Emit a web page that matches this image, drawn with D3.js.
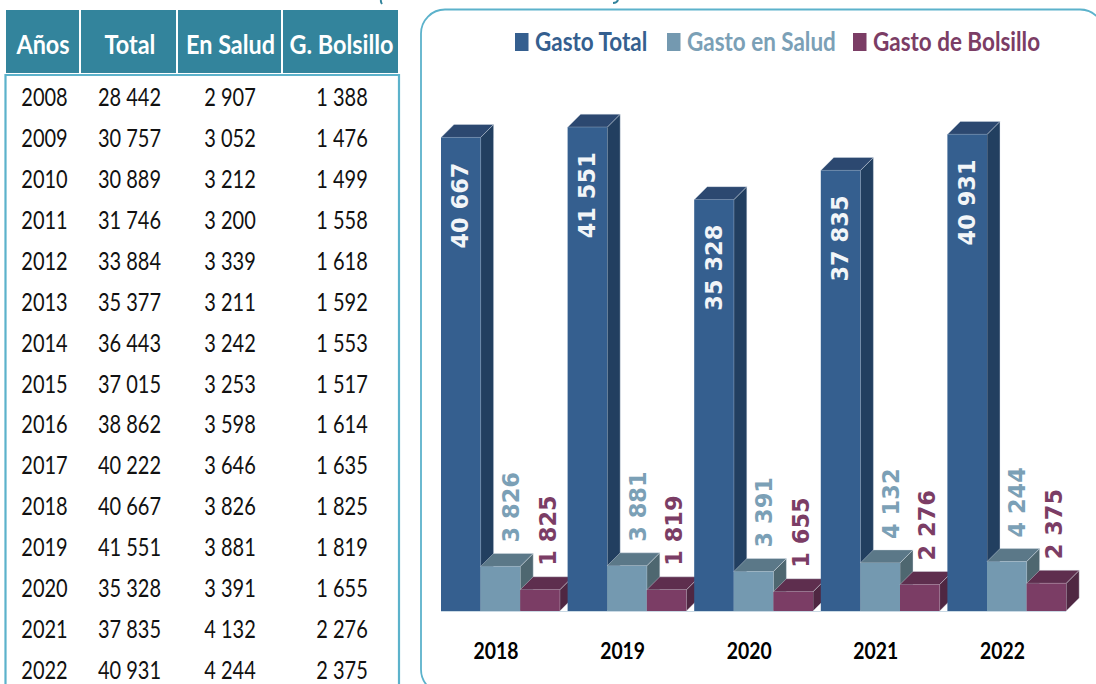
<!DOCTYPE html>
<html><head><meta charset="utf-8">
<script src="https://cdn.jsdelivr.net/npm/d3@7/dist/d3.min.js"></script>
<style>
html,body{margin:0;padding:0;background:#fff;overflow:hidden}
svg{display:block}
text{font-family:Lato,"Open Sans",sans-serif}
</style></head><body>
<script>
const tableYears=[2008,2009,2010,2011,2012,2013,2014,2015,2016,2017,2018,2019,2020,2021,2022];
const tableTotal=[28442,30757,30889,31746,33884,35377,36443,37015,38862,40222,40667,41551,35328,37835,40931];
const tableSalud=[2907,3052,3212,3200,3339,3211,3242,3253,3598,3646,3826,3881,3391,4132,4244];
const tableBolsillo=[1388,1476,1499,1558,1618,1592,1553,1517,1614,1635,1825,1819,1655,2276,2375];
const tableHeaders=["Años","Total","En Salud","G. Bolsillo"];
const chartYears=[2018,2019,2020,2021,2022];
const seriesNames=["Gasto Total","Gasto en Salud","Gasto de Bolsillo"];
const gastoTotal=[40667,41551,35328,37835,40931];
const gastoSalud=[3826,3881,3391,4132,4244];
const gastoBolsillo=[1825,1819,1655,2276,2375];

const W=1096,H=684;
const svg=d3.select("body").append("svg").attr("width",W).attr("height",H);
const fmtWide=v=>d3.format(",")(v).replace(","," ");
const scaled=(x,y,sx)=>`translate(${x},${y}) scale(${sx},1)`;

const TEAL="#33849C", LINE="#5CB2CB";
/* illegible clipped remains of the title at the page's top edge */
svg.append("path").attr("d","M381 0Q380.5 2 382 4").attr("fill","none").attr("stroke",TEAL).attr("stroke-width",2);
svg.append("path").attr("d","M618 0Q617 3 613 3").attr("fill","none").attr("stroke",TEAL).attr("stroke-width",2);

/* table */
const colEdges=[[6,79],[81,176],[178,281],[283,398]];
const colCenter=[44.5,129.5,230,342];
const headerCenter=[43,130,230.5,341.5];
const table=svg.append("g");
table.selectAll("rect.h").data(colEdges).join("rect").attr("class","h")
  .attr("x",d=>d[0]).attr("y",10).attr("width",d=>d[1]-d[0]).attr("height",63).attr("fill",TEAL);
table.selectAll("text.h").data(tableHeaders).join("text").attr("class","h")
  .attr("transform",(d,i)=>scaled(headerCenter[i],53.5,0.9)).attr("text-anchor","middle")
  .attr("font-size",26).attr("font-weight",700).attr("fill","#fff").text(d=>d);
table.append("path").attr("d","M5.5 684V75H399V684").attr("fill","none").attr("stroke",LINE).attr("stroke-width",2.2);
const rowY=d3.scalePoint().domain(tableYears).range([97.5,670.5]);
const columns=[tableYears.map(String),tableTotal.map(fmtWide),tableSalud.map(fmtWide),tableBolsillo.map(fmtWide)];
columns.forEach((col,c)=>{
  table.selectAll("text.c"+c).data(col).join("text").attr("class","c"+c)
    .attr("transform",(d,i)=>scaled(colCenter[c],rowY(tableYears[i])+8.5,0.8))
    .attr("text-anchor","middle").attr("font-size",25).attr("fill","#111").text(d=>d);
});

/* panel */
svg.append("rect").attr("x",421).attr("y",9.5).attr("width",683).attr("height",684).attr("rx",24)
  .attr("fill","#fff").attr("stroke",LINE).attr("stroke-width",1.8);

/* legend */
const colors=[
 {front:"#355F8F",top:"#2C4870",side:"#223F60",text:"#355F8F"},
 {front:"#7499B0",top:"#5B7888",side:"#4E6770",text:"#7BA0B6"},
 {front:"#7B3D65",top:"#5E2E4E",side:"#4F2742",text:"#7B3D65"}];
const legendSwatch=[515,667,853];
const legendText=[535,687,873];
const legend=svg.append("g");
legend.selectAll("rect").data(seriesNames).join("rect")
  .attr("x",(d,i)=>legendSwatch[i]).attr("y",33).attr("width",13.5).attr("height",18).attr("fill",(d,i)=>colors[i].front);
legend.selectAll("text").data(seriesNames).join("text")
  .attr("transform",(d,i)=>scaled(legendText[i],51,0.832))
  .attr("font-size",27).attr("font-weight",700).attr("fill",(d,i)=>colors[i].text).text(d=>d);

/* chart */
const x0=d3.scaleBand().domain(chartYears).range([441,441+5*126.6]);
const x1=d3.scaleBand().domain(d3.range(3)).range([0,118.8]);
const y=d3.scaleLinear().domain([0,45000]).range([611,611-524]);
const depth=13;
const seriesValues=[gastoTotal,gastoSalud,gastoBolsillo];
const plot=svg.append("g");
const marks=[];
chartYears.forEach((yr,i)=>seriesValues.forEach((vals,s)=>marks.push({yr,s,v:vals[i]})));
const groups=plot.selectAll("g.m").data(marks).join("g").attr("class","m");
groups.append("path").attr("fill",d=>colors[d.s].side).attr("stroke","#dfe6ee").attr("stroke-width",.4).attr("d",d=>{
  const r=x0(d.yr)+x1(d.s)+x1.bandwidth(),t=y(d.v),b=y(0);
  return `M${r} ${t}L${r+depth} ${t-depth}L${r+depth} ${b-depth}L${r} ${b}Z`;});
groups.append("path").attr("fill",d=>colors[d.s].top).attr("stroke","#dfe6ee").attr("stroke-width",.4).attr("d",d=>{
  const l=x0(d.yr)+x1(d.s),r=l+x1.bandwidth(),t=y(d.v);
  return `M${l} ${t}L${l+depth} ${t-depth}L${r+depth} ${t-depth}L${r} ${t}Z`;});
groups.append("rect").attr("x",d=>x0(d.yr)+x1(d.s)).attr("y",d=>y(d.v))
  .attr("width",x1.bandwidth()).attr("height",d=>y(0)-y(d.v)).attr("fill",d=>colors[d.s].front);
plot.append("line").attr("x1",441).attr("x2",441+4*126.6+118.8).attr("y1",611.5).attr("y2",611.5).attr("stroke","#bcd0de").attr("stroke-width",.8);

/* value labels */
const labelDx=[0,11,8];
plot.selectAll("text.v").data(marks).join("text").attr("class","v")
  .attr("transform",d=>{
    const cx=x0(d.yr)+x1(d.s)+x1.bandwidth()/2+labelDx[d.s];
    const yy=d.s===0?y(d.v)+25:y(d.v)-24;
    return `translate(${cx+7.5},${yy}) rotate(-90)`;})
  .attr("text-anchor",d=>d.s===0?"end":"start")
  .style("font-family","'DejaVu Sans',sans-serif")
  .attr("font-size",22.5).attr("font-weight",700)
  .attr("fill",d=>d.s===0?"#F2F5F8":colors[d.s].text)
  .text(d=>fmtWide(d.v));

/* x axis */
const axis=d3.axisBottom(x0).tickSize(0).tickFormat(d=>d);
const ax=svg.append("g").attr("transform","translate(-8.3,640)").call(axis);
ax.select(".domain").remove();
ax.selectAll("text").attr("y",0).attr("dy","0")
  .attr("transform","translate(0,19) scale(0.88,1)")
  .style("font-family","Lato,sans-serif").attr("font-size",22).attr("font-weight",700).attr("fill","#000");
</script>
</body></html>
